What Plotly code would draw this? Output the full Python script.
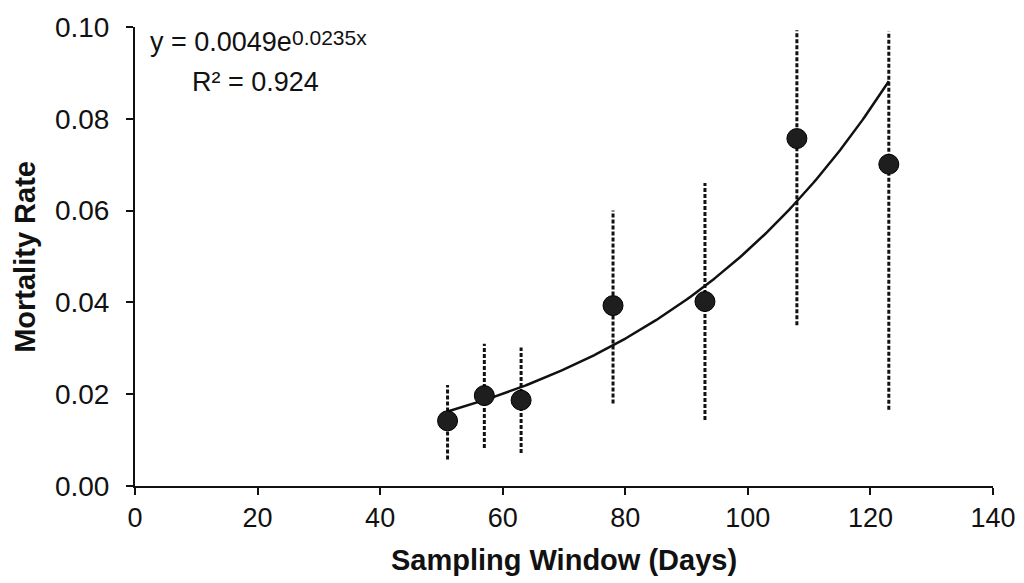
import numpy as np
import plotly.graph_objects as go

# Data
days = [51, 57, 63, 78, 93, 108, 123]
mortality = [0.0142, 0.0197, 0.0187, 0.0393, 0.0402, 0.0757, 0.0701]
err_low = [0.0058, 0.0083, 0.0072, 0.0180, 0.0144, 0.0350, 0.0166]
err_high = [0.0220, 0.0310, 0.0302, 0.0600, 0.0660, 0.0993, 0.0990]

# Trendline coefficients shown on the chart
fit_a = 0.0049
fit_b = 0.0235
fit_range = [51, 123]

x_ticks = [0, 20, 40, 60, 80, 100, 120, 140]
y_ticks = [0.00, 0.02, 0.04, 0.06, 0.08, 0.10]

FONT = "Liberation Sans, Arial, sans-serif"
INK = "#111111"

fig = go.Figure()

# dashed error bars
ex, ey = [], []
for x, lo, hi in zip(days, err_low, err_high):
    ex += [x, x, None]
    ey += [lo, hi, None]
fig.add_trace(go.Scatter(x=ex, y=ey, mode="lines",
                         line=dict(color=INK, width=3, dash="4px,2px"),
                         hoverinfo="skip", showlegend=False))

# exponential trendline
xf = np.linspace(fit_range[0], fit_range[1], 200)
yf = fit_a * np.exp(fit_b * xf)
fig.add_trace(go.Scatter(x=xf, y=yf, mode="lines",
                         line=dict(color=INK, width=2.5),
                         hoverinfo="skip", showlegend=False))

# data points
fig.add_trace(go.Scatter(x=days, y=mortality, mode="markers",
                         marker=dict(size=20, color="#1e1e1e",
                                     line=dict(color="#000000", width=1)),
                         showlegend=False))

fig.add_annotation(
    x=0.015, y=1.005, xref="paper", yref="paper", xanchor="left", yanchor="top",
    text="y = 0.0049e",
    showarrow=False, align="left",
    font=dict(family=FONT, size=27, color=INK),
)
fig.add_annotation(
    x=0.181, y=1.007, xref="paper", yref="paper", xanchor="left", yanchor="top",
    text="0.0235x",
    showarrow=False, align="left",
    font=dict(family=FONT, size=21, color=INK),
)
fig.add_annotation(
    x=0.064, y=0.918, xref="paper", yref="paper", xanchor="left", yanchor="top",
    text="R² = 0.924",
    showarrow=False, align="left",
    font=dict(family=FONT, size=27, color=INK),
)
# y-axis title
fig.add_annotation(
    x=-0.129, y=0.5, xref="paper", yref="paper", xanchor="center", yanchor="middle",
    text="<b>Mortality Rate</b>", textangle=-90,
    showarrow=False,
    font=dict(family=FONT, size=29, color=INK),
)

fig.update_layout(
    width=1024, height=583,
    margin=dict(l=127, r=39, t=19, b=105),
    plot_bgcolor="white", paper_bgcolor="white",
    font=dict(family=FONT, size=27, color=INK),
    xaxis=dict(
        range=[0, 140], tickvals=x_ticks, ticktext=[str(v) for v in x_ticks],
        automargin=False,
        showgrid=False, zeroline=False, showline=True, linecolor=INK, linewidth=2,
        ticks="outside", ticklen=7, tickwidth=2, tickcolor=INK,
        tickfont=dict(family=FONT, size=27, color=INK),
        title=dict(text="<b>Sampling Window (Days)</b>", standoff=17,
                   font=dict(family=FONT, size=29, color=INK)),
    ),
    yaxis=dict(
        range=[0, 0.10], tickvals=y_ticks, ticktext=[f"{v:.2f}" for v in y_ticks],
        automargin=False, ticklabelstandoff=11,
        showgrid=False, zeroline=False, showline=True, linecolor=INK, linewidth=2,
        ticks="outside", ticklen=7, tickwidth=2, tickcolor=INK,
        tickfont=dict(family=FONT, size=28, color=INK),
    ),
)

fig.write_html("out.html")
